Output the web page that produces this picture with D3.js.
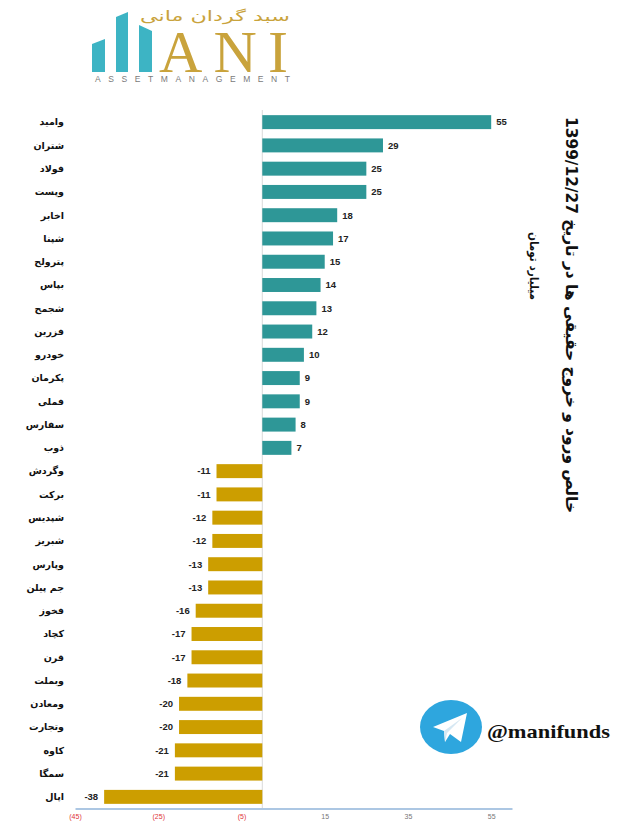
<!DOCTYPE html>
<html>
<head>
<meta charset="utf-8">
<script src="https://cdn.jsdelivr.net/npm/d3@7"></script>
<style>
  body { margin: 0; background: #fff; }
  svg { display: block; }
</style>
</head>
<body>
<svg width="626" height="830"></svg>
<script>
// Data
const symbols = ["واميد", "شتران", "فولاد", "وپست", "اخابر", "شپنا", "پترولح", "بپاس", "شجمح", "فزرین",
    "خودرو", "پکرمان", "فملی", "سفارس", "ذوب", "وگردش", "برکت", "شپدیس", "شبریز", "وپارس",
    "جم پیلن", "فخوز", "کچاد", "قرن", "وبملت", "ومعادن", "وتجارت", "کاوه", "سمگا", "اپال"];
const netFlow = [55, 29, 25, 25, 18, 17, 15, 14, 13, 12,
    10, 9, 9, 8, 7, -11, -11, -12, -12, -13,
    -13, -16, -17, -17, -18, -20, -20, -21, -21, -38];
const tickValues = [-45, -25, -5, 15, 35, 55];

const titleText = "خالص ورود و خروج حقیقی ها در تاریخ 1399/12/27";
const unitText = "میلیارد تومان";

const svg = d3.select("svg");

// Scales
const x = d3.scaleLinear().domain([-45, 60]).range([75, 512]);
const y = d3.scaleBand().domain(symbols).range([110.5, 808.5])
    .paddingInner(0.4).paddingOuter(0.2);

const faFont = "'DejaVu Sans', sans-serif";
const numFont = "'Liberation Sans', Arial, sans-serif";

// Zero line
svg.append("line")
    .attr("x1", x(0)).attr("x2", x(0))
    .attr("y1", 110).attr("y2", 808)
    .attr("stroke", "#d9d9d9").attr("stroke-width", 1);

// Bars
svg.append("g")
    .selectAll("rect")
    .data(netFlow)
    .join("rect")
        .attr("x", d => x(Math.min(0, d)))
        .attr("width", d => Math.abs(x(d) - x(0)))
        .attr("y", (d, i) => y(symbols[i]))
        .attr("height", y.bandwidth())
        .attr("fill", d => d >= 0 ? "#2e9797" : "#cc9e00");

// Value labels
svg.append("g")
    .selectAll("text")
    .data(netFlow)
    .join("text")
        .attr("x", d => d >= 0 ? x(d) + 5 : x(d) - 6)
        .attr("y", (d, i) => y(symbols[i]) + y.bandwidth() / 2)
        .attr("dy", "0.35em")
        .attr("text-anchor", d => d >= 0 ? "start" : "end")
        .attr("direction", "ltr")
        .style("font-family", numFont)
        .style("font-size", "9.5px")
        .style("font-weight", "bold")
        .attr("fill", "#222")
        .text(d => d);

// Category labels
svg.append("g")
    .selectAll("text")
    .data(symbols)
    .join("text")
        .attr("x", 64)
        .attr("y", d => y(d) + y.bandwidth() / 2)
        .attr("dy", "0.35em")
        .attr("text-anchor", "end")
        .style("font-family", faFont)
        .style("font-size", "9.5px")
        .style("font-weight", "bold")
        .attr("fill", "#111")
        .text(d => d);

// Bottom axis
const axis = svg.append("g")
    .attr("transform", "translate(0,808.5)")
    .call(d3.axisBottom(x).tickValues(tickValues).tickSize(0).tickPadding(6)
        .tickFormat(d => d < 0 ? "(" + Math.abs(d) + ")" : d));
axis.select(".domain").attr("stroke", "#5b8fc7").attr("stroke-width", 1.2);
axis.selectAll("text")
    .style("font-family", numFont)
    .style("font-size", "7px")
    .attr("fill", d => d < 0 ? "#e0343a" : "#777");

// Title (rotated)
svg.append("text")
    .attr("transform", "translate(572,315) rotate(90)")
    .attr("text-anchor", "middle")
    .attr("dy", "0.35em")
    .attr("textLength", 396)
    .attr("lengthAdjust", "spacingAndGlyphs")
    .style("font-family", faFont)
    .style("font-size", "16px")
    .style("font-weight", "bold")
    .attr("fill", "#111")
    .text(titleText);

svg.append("text")
    .attr("transform", "translate(534,266) rotate(90)")
    .attr("text-anchor", "middle")
    .attr("dy", "0.35em")
    .attr("textLength", 68)
    .attr("lengthAdjust", "spacingAndGlyphs")
    .style("font-family", faFont)
    .style("font-size", "12px")
    .style("font-weight", "bold")
    .attr("fill", "#111")
    .text(unitText);

// Logo
const logo = svg.append("g");
const teal = "#3db4c4";
logo.append("polygon").attr("points", "92,44 105,39 105,72 92,72").attr("fill", teal);
logo.append("polygon").attr("points", "116,17 128,12 128,72 116,72").attr("fill", teal);
logo.append("polygon").attr("points", "139,25 152,31 152,72 139,72").attr("fill", teal);
logo.append("text")
    .attr("x", 159).attr("y", 72)
    .attr("textLength", 129)
    .attr("lengthAdjust", "spacing")
    .style("font-family", "'Liberation Serif', serif")
    .style("font-size", "60px")
    .attr("fill", "#c9a33c")
    .text("ANI");
logo.append("text")
    .attr("x", 140).attr("y", 21)
    .attr("textLength", 150)
    .attr("lengthAdjust", "spacingAndGlyphs")
    .style("font-family", faFont)
    .style("font-size", "14px")
    .attr("fill", "#c9a33c")
    .text("سبد گردان مانی");
logo.append("text")
    .attr("x", 95).attr("y", 82)
    .attr("textLength", 195)
    .attr("lengthAdjust", "spacing")
    .style("font-family", "'Liberation Sans', sans-serif")
    .style("font-size", "8.5px")
    .attr("fill", "#7a7a7a")
    .text("ASSETMANAGEMENT");

// Telegram badge
const tg = svg.append("g");
tg.append("ellipse").attr("cx", 451).attr("cy", 727).attr("rx", 31).attr("ry", 27).attr("fill", "#2ea6de");
tg.append("path")
    .attr("d", "M433,727 L467,713 L461,742 L450,734 L445,742 L444,731 Z")
    .attr("fill", "#fff");
tg.append("path")
    .attr("d", "M444,731 L462,718 L447,733 L445,742 Z")
    .attr("fill", "#d6e8f3");
tg.append("text")
    .attr("x", 487).attr("y", 738)
    .attr("textLength", 123)
    .attr("lengthAdjust", "spacingAndGlyphs")
    .style("font-family", "'Liberation Serif', serif")
    .style("font-size", "19px")
    .style("font-weight", "bold")
    .attr("fill", "#111")
    .text("@manifunds");
</script>
</body>
</html>
